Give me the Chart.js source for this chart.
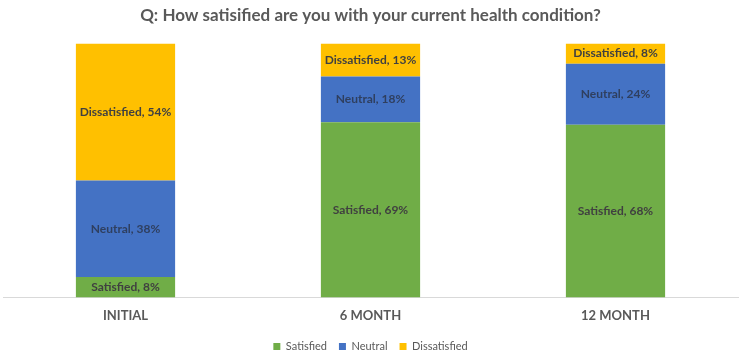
<!DOCTYPE html>
<html>
<head>
<meta charset="utf-8">
<script src="https://cdn.jsdelivr.net/npm/chart.js@4/dist/chart.umd.min.js"></script>
<style>
  html, body { margin: 0; padding: 0; background: #fff; }
  #wrap { width: 742px; height: 354px; }
</style>
</head>
<body>
<div id="wrap"><canvas id="chart"></canvas></div>
<script>
const categories = ['INITIAL', '6 MONTH', '12 MONTH'];
const satisfied = [8, 69, 68];
const neutral = [38, 18, 24];
const dissatisfied = [54, 13, 8];

// dibuja "Serie, valor%" en el centro de cada segmento
const barLabels = {
  id: 'barLabels',
  afterDatasetsDraw(chart) {
    const ctx = chart.ctx;
    ctx.save();
    ctx.font = 'bold 12px Lato';
    ctx.textAlign = 'center';
    ctx.textBaseline = 'middle';
    chart.data.datasets.forEach((ds, i) => {
      chart.getDatasetMeta(i).data.forEach((bar, j) => {
        const p = bar.getProps(['x', 'y', 'base'], true);
        ctx.fillStyle = i === 1 ? '#2f3f5f' : '#404040';
        ctx.fillText(ds.label + ', ' + ds.data[j] + '%', p.x, (p.y + p.base) / 2);
      });
    });
    ctx.restore();
  }
};

new Chart(document.getElementById('chart'), {
  type: 'bar',
  data: {
    labels: categories,
    datasets: [
      { label: 'Satisfied', data: satisfied, backgroundColor: '#70AD47' },
      { label: 'Neutral', data: neutral, backgroundColor: '#4472C4' },
      { label: 'Dissatisfied', data: dissatisfied, backgroundColor: '#FFC000' }
    ]
  },
  options: {
    responsive: true,
    maintainAspectRatio: false,
    animation: false,
    layout: { padding: { left: 3, right: 4, top: 0, bottom: -8 } },
    datasets: { bar: { categoryPercentage: 1, barPercentage: 0.405 } },
    plugins: {
      title: {
        display: true,
        text: 'Q: How satisified are you with your current health condition?',
        color: '#595959',
        font: { family: 'Lato', size: 17, weight: 'bold' },
        padding: { top: 5, bottom: 18 }
      },
      legend: {
        position: 'bottom',
        labels: {
          color: '#595959',
          font: { family: 'Lato', size: 11 },
          boxWidth: 7, boxHeight: 7,
          padding: 12
        }
      },
      tooltip: { enabled: false }
    },
    scales: {
      x: {
        stacked: true,
        grid: { display: false },
        border: { color: '#d9d9d9' },
        ticks: { color: '#595959', font: { family: 'Lato', size: 13, weight: 'bold' }, padding: 3 },
        afterFit(scale) { scale.height += 2; }
      },
      y: {
        stacked: true,
        display: false,
        min: 0, max: 100
      }
    }
  },
  plugins: [barLabels]
});
</script>
</body>
</html>
